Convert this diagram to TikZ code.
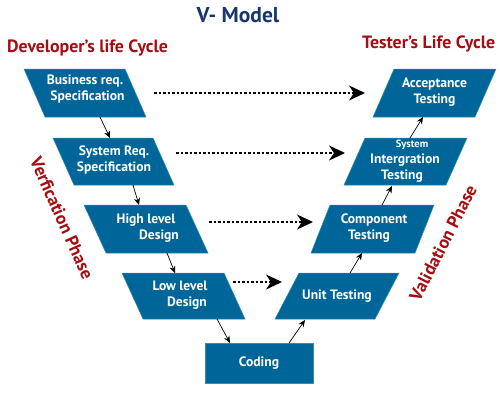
\documentclass[tikz,border=0pt]{standalone}
\usepackage{fontspec}
\setmainfont{PT Sans}
\usetikzlibrary{arrows.meta}
\definecolor{boxblue}{HTML}{006699}
\definecolor{boxedge}{HTML}{2F8FAF}
\definecolor{darkred}{HTML}{A50D12}
\definecolor{navy}{HTML}{17376F}
\tikzset{
  pgbox/.style={fill=boxblue, draw=boxedge, line width=0.5pt},
  boxtext/.style={text=white, font=\bfseries\fontsize{13.6}{16}\selectfont, align=center, inner sep=0pt},
  heading/.style={text=darkred, font=\bfseries\fontsize{17.8}{20}\selectfont, inner sep=0pt},
  flowarrow/.style={-{Stealth[length=7pt,width=6pt]}, line width=0.7pt, black},
  maparrow/.style={-{Stealth[length=16pt,width=15pt,inset=5pt]}, line width=1.6pt, dash pattern=on 2.5pt off 2pt, black},
}
% #1 top-left x, #2 top y, #3 width, #4 bottom shift, #5 height
\newcommand\pgshape[5]{\path[pgbox] (#1,#2) -- ++(#3,0) -- ++(#4,#5) -- ++(-#3,0) -- cycle;}
\begin{document}
\begin{tikzpicture}[x=1pt,y=-1pt]
\useasboundingbox (0,0) rectangle (500,400);
\fill[white] (0,0) rectangle (500,400);

% title and headings
\node[text=navy, font=\bfseries\fontsize{21.5}{24}\selectfont, anchor=base, inner sep=0pt] (title) at (238,22) {V- Model};
\node[heading, anchor=base west] (dev) at (7,52) {Developer’s life Cycle};
\node[heading, anchor=base west] (tester) at (362,48) {Tester’s Life Cycle};
\node[heading, rotate=-66] (verif) at (62,218) {Verfication Phase};
\node[heading, rotate=63] (valid) at (443,243) {Validation Phase};

% boxes
\pgshape{24}{69}{101}{21}{48}
\node[boxtext] (biz) at (85,89) {Business req.\\\hspace*{5pt}Specification};
\pgshape{53}{138}{100}{21}{47}
\node[boxtext] (sysreq) at (114,160) {System Req.\\Specification};
\pgshape{84}{205}{102}{22}{48}
\node[boxtext] (high) at (146,228) {High level\\\hspace*{26pt}Design};
\pgshape{122}{273}{102}{21}{46}
\node[boxtext] (low) at (180,295) {Low level\\\hspace*{14pt}Design};
\path[pgbox] (205,343) rectangle (313,383);
\node[boxtext] (coding) at (259,363) {Coding};
\pgshape{299}{273}{100}{-24}{46}
\node[boxtext] (unit) at (337,296) {Unit Testing};
\pgshape{330}{205}{104}{-19}{48}
\node[boxtext] (comp) at (374,228) {Component\\Testing\hspace*{10pt}};
\pgshape{365}{138}{102}{-21}{47}
\node[boxtext] (sysint) at (405,161) {{\fontsize{10.5}{12.5}\selectfont\hspace*{14pt}System}\\Intergration\\Testing\hspace*{6pt}};
\pgshape{394}{69}{102}{-21}{48}
\node[boxtext] (acc) at (434.5,92) {Acceptance\\Testing};

% connector end points
\coordinate (a1s) at (100,117); \coordinate (a1e) at (110,138);
\coordinate (a2s) at (133,185); \coordinate (a2e) at (139,205);
\coordinate (a3s) at (167,253); \coordinate (a3e) at (175,273);
\coordinate (a4s) at (217,319); \coordinate (a4e) at (230,343);
\coordinate (a5s) at (289,343); \coordinate (a5e) at (305,320);
\coordinate (a6s) at (350,273); \coordinate (a6e) at (362,253);
\coordinate (a7s) at (382,205); \coordinate (a7e) at (392,186);
\coordinate (a8s) at (410,138); \coordinate (a8e) at (423,117);
\coordinate (d1s) at (154,93);  \coordinate (d1e) at (365,93);
\coordinate (d2s) at (176,153); \coordinate (d2e) at (345,153);
\coordinate (d3s) at (209,222); \coordinate (d3e) at (313,222);
\coordinate (d4s) at (233,282); \coordinate (d4e) at (282,282);

\foreach \n in {a1,a2,a3,a4,a5,a6,a7,a8}{\draw[flowarrow] (\n s) -- (\n e);}
\foreach \n in {d1,d2,d3,d4}{\draw[maparrow] (\n s) -- (\n e);}
\end{tikzpicture}
\end{document}
